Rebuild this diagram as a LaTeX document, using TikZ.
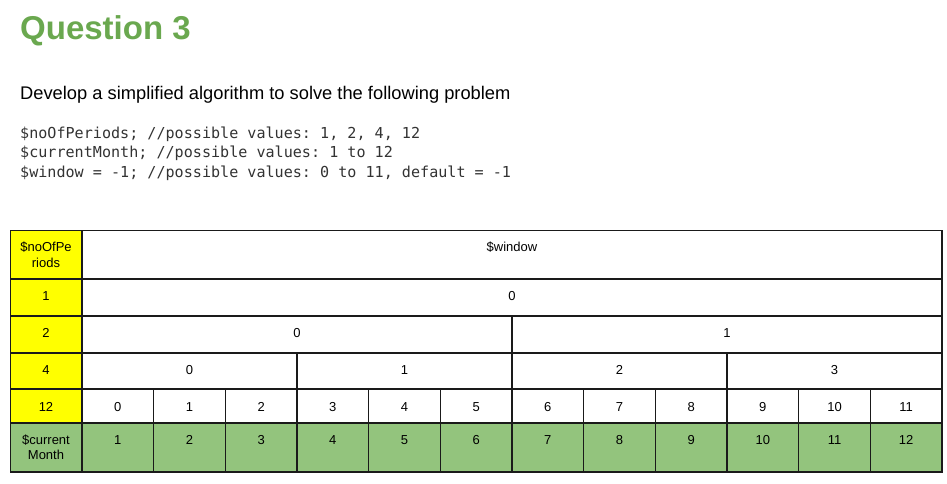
\documentclass[tikz,border=0pt]{standalone}
\usepackage{fontspec}
\setmainfont{Liberation Sans}
\setsansfont{Liberation Sans}
\setmonofont{DejaVu Sans Mono}
\definecolor{qgreen}{HTML}{6AA84F}
\definecolor{cellyellow}{HTML}{FFFF00}
\definecolor{cellgreen}{HTML}{93C47D}
\definecolor{gridline}{HTML}{1A1A1A}
\definecolor{codegray}{HTML}{333333}
\tikzset{
  txt/.style={inner sep=0pt, anchor=base, font=\fontsize{13}{15}\selectfont},
  gridln/.style={draw=gridline, line width=1.6pt},
  codeline/.style={inner sep=0pt, anchor=base west, text=codegray, font=\ttfamily\fontsize{15.1}{18}\selectfont},
}
\begin{document}
\begin{tikzpicture}[x=1pt,y=-1pt]
\useasboundingbox[fill=white] (0,0) rectangle (947,483);

% heading and text
\node[inner sep=0pt, anchor=base west, text=qgreen, font=\bfseries\fontsize{33}{36}\selectfont] (title) at (20,39) {Question 3};
\node[inner sep=0pt, anchor=base west, font=\fontsize{18.3}{20}\selectfont] (intro) at (20,99) {Develop a simplified algorithm to solve the following problem};
\node[codeline] (code1) at (20,138) {\$noOfPeriods; //possible values: 1, 2, 4, 12};
\node[codeline] (code2) at (20,157.5) {\$currentMonth; //possible values: 1 to 12};
\node[codeline] (code3) at (20,177) {\$window = -1; //possible values: 0 to 11, default = -1};

% table fills
\fill[cellyellow] (10.5,230.5) rectangle (82,423);
\fill[cellgreen] (10.5,423) rectangle (942,472);

% table grid
\draw[gridln] (10.5,230.5) rectangle (942,472);
\foreach \y in {279,316,353,389,423} \draw[gridln] (10.5,\y) -- (942,\y);
\draw[gridln] (82,230.5) -- (82,472);
\draw[gridln] (512,316) -- (512,353);
\foreach \k in {3,6,9} \draw[gridln] ({82+\k*71.667},353) -- ({82+\k*71.667},389);
\foreach \k in {1,...,11} \draw[gridln] ({82+\k*71.667},389) -- ({82+\k*71.667},472);

% left column labels
\node[txt] (hdA) at (46,251.5) {\$noOfPe};
\node[txt] (hdB) at (46,267.5) {riods};
\node[txt] (n1) at (46,300) {1};
\node[txt] (n2) at (46,337) {2};
\node[txt] (n4) at (46,374) {4};
\node[txt] (n12) at (46,411) {12};
\node[txt] (cmA) at (46,444) {\$current};
\node[txt] (cmB) at (46,459) {Month};

% body
\node[txt] (win) at (512,251.5) {\$window};
\node[txt] (r1) at (512,300) {0};
\node[txt] (r2a) at (297,337) {0};
\node[txt] (r2b) at (727,337) {1};
\foreach \j in {0,1,2,3} {
  \node[txt] (r4-\j) at ({82+(3*\j+1.5)*71.667},374) {\j};
}
\foreach \k in {1,...,12} {
  \pgfmathtruncatemacro{\w}{\k-1}
  \node[txt] (w-\k) at ({82+(\k-0.5)*71.667},411) {\w};
  \node[txt] (m-\k) at ({82+(\k-0.5)*71.667},444) {\k};
}
\end{tikzpicture}
\end{document}
